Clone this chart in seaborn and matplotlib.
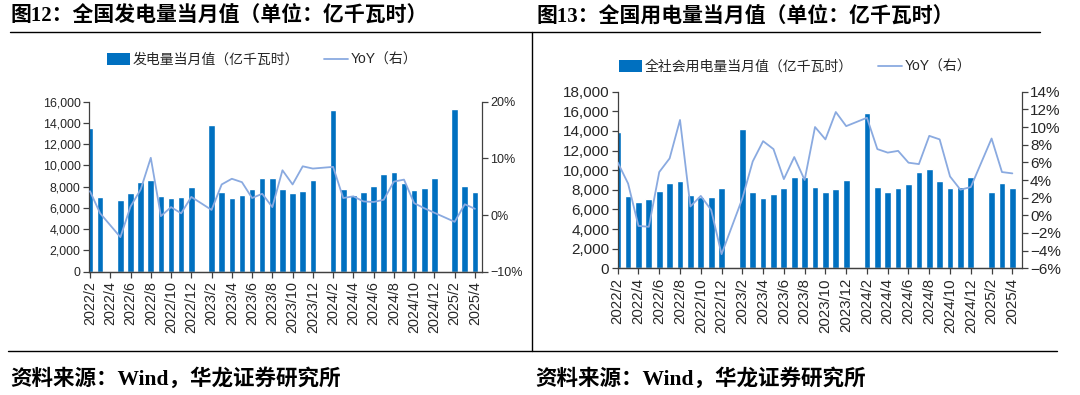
import numpy as np
import pandas as pd
import seaborn as sns
import matplotlib.pyplot as plt
from matplotlib.lines import Line2D
from matplotlib.patches import Patch
from matplotlib.ticker import FuncFormatter

# --- data (亿千瓦时, YoY in %) ---
months = ["2022/2", "2022/3", "2022/4", "2022/5", "2022/6", "2022/7", "2022/8",
          "2022/9", "2022/10", "2022/11", "2022/12", "2023/1", "2023/2", "2023/3",
          "2023/4", "2023/5", "2023/6", "2023/7", "2023/8", "2023/9", "2023/10",
          "2023/11", "2023/12", "2024/1", "2024/2", "2024/3", "2024/4", "2024/5",
          "2024/6", "2024/7", "2024/8", "2024/9", "2024/10", "2024/11", "2024/12",
          "2025/1", "2025/2", "2025/3", "2025/4"]

gen_value = [13500, 7000, np.nan, 6750, 7400, 8400, 8600, 7150, 6930, 7030, 7950,
             np.nan, 13800, 7500, 6930, 7220, 7750, 8790, 8790, 7780, 7380, 7620,
             8630, np.nan, 15220, 7780, 7220, 7530, 8060, 9190, 9410, 8380, 7690,
             7850, 8790, np.nan, 15280, 8090, 7470]
gen_yoy = [4.2, 0.3, np.nan, -3.9, 1.5, 4.5, 10.1, -0.2, 1.4, 0.3, 3.2,
           np.nan, 0.9, 5.4, 6.4, 5.8, 3.0, 3.75, 1.4, 7.9, 5.4, 8.6,
           8.2, np.nan, 8.5, 3.0, 3.3, 2.4, 2.3, 2.7, 5.9, 6.25, 2.1,
           1.2, 0.4, np.nan, -1.2, 1.9, 1.1]

use_value = [13900, 7370, 6730, 7100, 7850, 8730, 8930, 7500, 7240, 7240, 8190,
             np.nan, 14230, 7750, 7200, 7610, 8190, 9280, 9280, 8260, 7810, 8050,
             9000, np.nan, 15800, 8320, 7810, 8150, 8630, 9820, 10090, 8900, 8150,
             8260, 9280, np.nan, 7810, 8660, 8150]
use_yoy = [6.0, 3.6, -1.2, -1.3, 4.9, 6.45, 10.8, 1.0, 2.2, 0.6, -4.4,
           np.nan, 1.9, 6.1, 8.4, 7.5, 4.1, 6.6, 4.0, 10.0, 8.6, 11.7,
           10.1, np.nan, 11.05, 7.5, 7.1, 7.3, 5.96, 5.8, 9.0, 8.6, 4.4,
           2.9, 3.2, np.nan, 8.7, 4.9, 4.75]

bar_color = "#0070C0"
line_color = "#8AAAE0"
axis_color = "#404040"
text_color = "#262626"

# --- style ---
sns.set_theme(style="ticks")
plt.rcParams["font.family"] = ["Liberation Sans", "Noto Sans CJK SC", "DejaVu Sans"]
plt.rcParams["axes.unicode_minus"] = True
serif_cjk = ["Liberation Serif", "Noto Sans CJK SC", "DejaVu Sans"]

fig = plt.figure(figsize=(10.8, 3.95), dpi=100)


def pct(v, p):
    return f"{v:.0f}%".replace("-", "\u2212")


def draw_panel(rect, values, yoy, xlim, ylim, ystep, ylim2, ystep2, sizes):
    ax = fig.add_axes(rect)
    df = pd.DataFrame({"pos": np.arange(len(months)), "value": values, "yoy": yoy})

    sns.barplot(data=df.dropna(subset=["value"]), x="pos", y="value", native_scale=True,
                orient="x", color=bar_color, saturation=1, width=0.65, errorbar=None, ax=ax)
    ax2 = ax.twinx()
    sns.lineplot(data=df.dropna(subset=["yoy"]), x="pos", y="yoy", color=line_color,
                 lw=1.3, sort=False, ax=ax2)

    ax.set_xlim(xlim)
    ax.set_ylim(ylim)
    ax.set_yticks(np.arange(ylim[0], ylim[1] + 1, ystep))
    ax.yaxis.set_major_formatter(FuncFormatter(lambda v, p: f"{v:,.0f}"))
    ax.set_xticks(np.arange(0, len(months), 2))
    ax.set_xticklabels(months[::2], rotation=90)
    ax2.set_ylim(ylim2)
    ax2.set_yticks(np.arange(ylim2[0], ylim2[1] + 1, ystep2))
    ax2.yaxis.set_major_formatter(FuncFormatter(pct))
    for a in (ax, ax2):
        a.set_xlabel("")
        a.set_ylabel("")
        a.spines["top"].set_visible(False)
        for s in a.spines.values():
            s.set_color(axis_color)
            s.set_linewidth(0.9)
    ax.spines["right"].set_visible(False)
    ax2.spines["left"].set_visible(False)

    ax.tick_params(axis="y", direction="out", length=4, width=0.9, color=axis_color,
                   labelsize=sizes[0], labelcolor=text_color, pad=2)
    ax.tick_params(axis="x", direction="out", length=4, width=0.9, color=axis_color,
                   labelsize=sizes[2], labelcolor=text_color, pad=3)
    ax2.tick_params(axis="y", direction="out", length=4, width=0.9, color=axis_color,
                    labelsize=sizes[1], labelcolor=text_color, pad=2)
    return ax, ax2


# left panel: 发电量
axL, axL2 = draw_panel([89 / 1080, 123.3 / 395, 393 / 1080, 170 / 395],
                       gen_value, gen_yoy, (-0.1, 38.7), (0, 16000), 2000,
                       (-10, 20), 10, (8.9, 9, 10.4))
# right panel: 用电量
axR, axR2 = draw_panel([617.7 / 1080, 126.7 / 395, 404 / 1080, 176.6 / 395],
                       use_value, use_yoy, (0, 38.9), (0, 18000), 2000,
                       (-6, 14), 2, (11, 11, 10.8))

# legends
for label, cx, cy in [("发电量当月值（亿千瓦时）", 262, 60),
                      ("全社会用电量当月值（亿千瓦时）", 795, 67)]:
    handles = [Patch(facecolor=bar_color, edgecolor="none"),
               Line2D([], [], color=line_color, lw=1.3)]
    fig.legend(handles, [label, "YoY（右）"], loc="center", ncol=2, frameon=False,
               bbox_to_anchor=(cx / 1080, 1 - cy / 395), fontsize=10,
               handlelength=1.7, handleheight=0.9, handletextpad=0.2,
               columnspacing=1.8, labelcolor=text_color)

# titles, frame lines and sources
fig.text(10 / 1080, 1 - 16 / 395, "图12：全国发电量当月值（单位：亿千瓦时）",
         family=serif_cjk, weight="bold", fontsize=15, va="center", color="black")
fig.text(536 / 1080, 1 - 16 / 395, "图13：全国用电量当月值（单位：亿千瓦时）",
         family=serif_cjk, weight="bold", fontsize=15, va="center", color="black")
fig.text(10 / 1080, 1 - 379 / 395, "资料来源：Wind，华龙证券研究所",
         family=serif_cjk, weight="bold", fontsize=15.5, va="center", color="black")
fig.text(535 / 1080, 1 - 379 / 395, "资料来源：Wind，华龙证券研究所",
         family=serif_cjk, weight="bold", fontsize=15.5, va="center", color="black")

fig.add_artist(Line2D([10 / 1080, 1040 / 1080], [1 - 31.7 / 395] * 2, color="black", lw=1))
fig.add_artist(Line2D([532.3 / 1080] * 2, [1 - 31.7 / 395, 1 - 350.7 / 395], color="black", lw=1))
fig.add_artist(Line2D([8 / 1080, 1057 / 1080], [1 - 350.7 / 395] * 2, color="black", lw=1))

fig.savefig("out.png", dpi=100)
